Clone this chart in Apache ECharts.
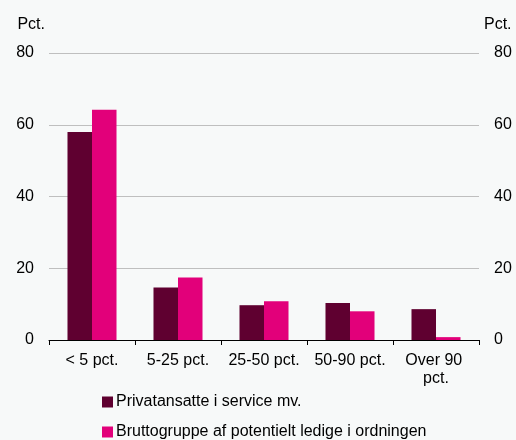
<!DOCTYPE html>
<html>
<head>
<meta charset="utf-8">
<script src="https://cdn.jsdelivr.net/npm/echarts@6/dist/echarts.min.js"></script>
<style>
html,body{margin:0;padding:0;background:#f7f9f9;}
#c{width:516px;height:440px;}
</style>
</head>
<body>
<div id="c"></div>
<script>
const categories = ['< 5 pct.', '5-25 pct.', '25-50 pct.', '50-90 pct.', 'Over 90 pct.'];
const seriesNames = ['Privatansatte i service mv.', 'Bruttogruppe af potentielt ledige i ordningen'];
const privatansatte = [58.0, 14.6, 9.7, 10.3, 8.6];
const bruttogruppe = [64.2, 17.4, 10.8, 8.0, 0.8];
const yTicks = [0, 20, 40, 60, 80];

const font = 'Liberation Sans, Arial, sans-serif';
const fs = 16;
const chart = echarts.init(document.getElementById('c'));
chart.setOption({
  backgroundColor: '#f7f9f9',
  animation: false,
  textStyle: {fontFamily: font},
  grid: {left: 49, right: 37, top: 53, bottom: 100},
  legend: {
    orient: 'vertical', left: 102, top: 394, padding: 0, height: 60,
    itemWidth: 11, itemHeight: 11, itemGap: 14,
    icon: 'rect',
    textStyle: {fontSize: fs, color: '#000', fontFamily: font, padding: [0,0,0,-2]},
    data: seriesNames
  },
  xAxis: {
    type: 'category', data: categories,
    axisLine: {lineStyle: {color: '#000', width: 1}},
    axisTick: {show: true, length: 5, lineStyle: {color: '#000'}},
    axisLabel: {color: '#000', fontSize: fs, fontFamily: font, margin: 12, width: 80, overflow: 'break', lineHeight: 18, interval: 0}
  },
  yAxis: [
    {
      type: 'value', min: yTicks[0], max: yTicks[yTicks.length-1], interval: 20,
      position: 'left', name: 'Pct.', nameLocation: 'end', nameGap: 20,
      nameTextStyle: {color: '#000', fontSize: fs, fontFamily: font, align: 'right', padding: [0, 4, 0, 0]},
      axisLine: {show: false}, axisTick: {show: false},
      axisLabel: {color: '#000', fontSize: fs, fontFamily: font, margin: 15},
      splitLine: {lineStyle: {color: '#bfbfbf', width: 1}}
    },
    {
      type: 'value', min: yTicks[0], max: yTicks[yTicks.length-1], interval: 20,
      position: 'right', name: 'Pct.', nameLocation: 'end', nameGap: 20,
      nameTextStyle: {color: '#000', fontSize: fs, fontFamily: font, align: 'left', padding: [0, 0, 0, 5]},
      axisLine: {show: false}, axisTick: {show: false},
      axisLabel: {color: '#000', fontSize: fs, fontFamily: font, margin: 15},
      splitLine: {show: false}
    }
  ],
  series: [
    {name: seriesNames[0], type: 'bar', data: privatansatte, barGap: '0%', barCategoryGap: '43%',
     itemStyle: {color: '#5f0030'}},
    {name: seriesNames[1], type: 'bar', data: bruttogruppe, barGap: '0%', barCategoryGap: '43%',
     itemStyle: {color: '#e2007a'}}
  ]
});
</script>
</body>
</html>
